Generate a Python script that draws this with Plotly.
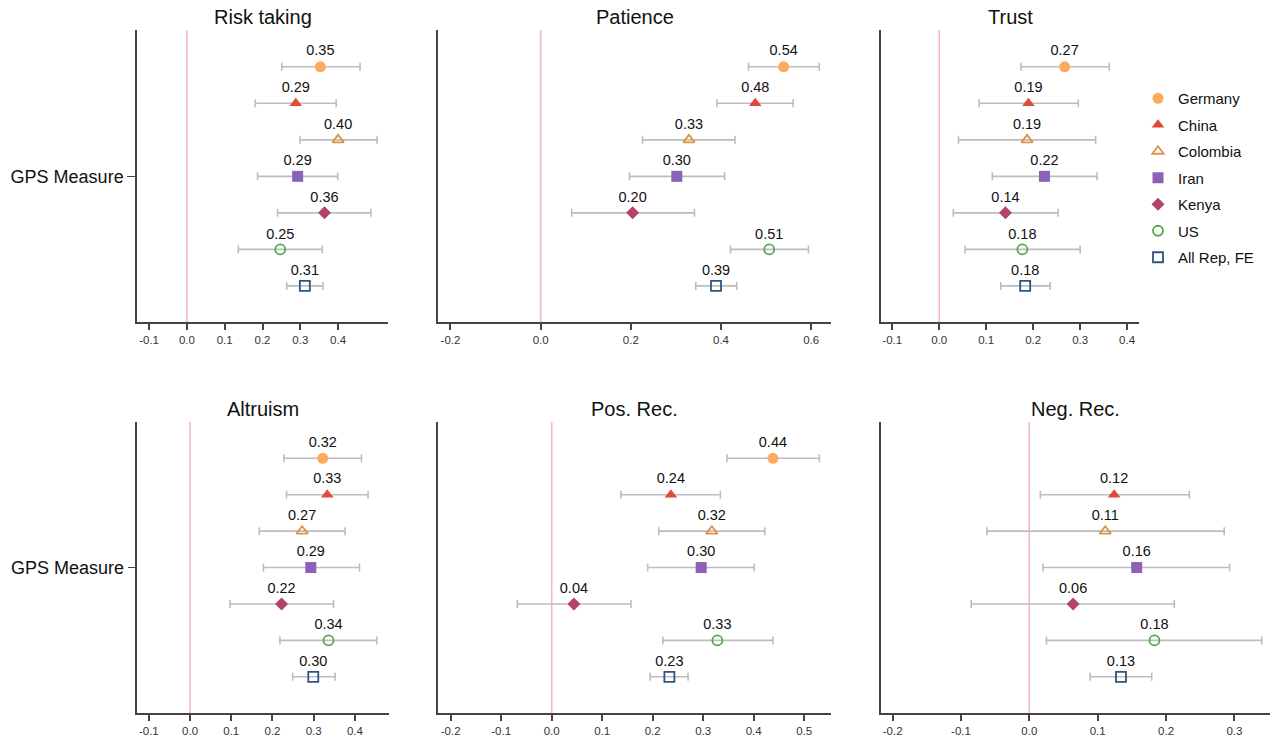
import plotly.graph_objects as go

# ---------------- data ----------------
countries = ["Germany", "China", "Colombia", "Iran", "Kenya", "US", "All Rep, FE"]
panel_titles = ["Risk taking", "Patience", "Trust", "Altruism", "Pos. Rec.", "Neg. Rec."]
y_label = "GPS Measure"

risk_est = [0.353, 0.288, 0.400, 0.293, 0.364, 0.247, 0.312]
risk_lo = [0.251, 0.181, 0.299, 0.187, 0.240, 0.136, 0.264]
risk_hi = [0.458, 0.395, 0.503, 0.399, 0.487, 0.358, 0.360]

patience_est = [0.539, 0.476, 0.329, 0.302, 0.204, 0.507, 0.389]
patience_lo = [0.461, 0.391, 0.226, 0.197, 0.069, 0.421, 0.344]
patience_hi = [0.618, 0.560, 0.431, 0.408, 0.341, 0.594, 0.435]

trust_est = [0.267, 0.190, 0.187, 0.224, 0.141, 0.177, 0.183]
trust_lo = [0.174, 0.085, 0.041, 0.113, 0.030, 0.055, 0.131]
trust_hi = [0.362, 0.296, 0.333, 0.336, 0.253, 0.300, 0.236]

altruism_est = [0.322, 0.333, 0.272, 0.293, 0.222, 0.336, 0.299]
altruism_lo = [0.228, 0.234, 0.168, 0.178, 0.097, 0.218, 0.249]
altruism_hi = [0.416, 0.432, 0.376, 0.411, 0.348, 0.453, 0.352]

posrec_est = [0.438, 0.236, 0.317, 0.296, 0.044, 0.328, 0.233]
posrec_lo = [0.347, 0.137, 0.212, 0.190, -0.068, 0.220, 0.195]
posrec_hi = [0.530, 0.334, 0.422, 0.401, 0.157, 0.438, 0.270]

negrec_est = [None, 0.124, 0.111, 0.157, 0.064, 0.183, 0.134]
negrec_lo = [None, 0.016, -0.062, 0.020, -0.085, 0.025, 0.089]
negrec_hi = [None, 0.234, 0.285, 0.293, 0.212, 0.340, 0.179]

tick_risk = [-0.1, 0.0, 0.1, 0.2, 0.3, 0.4]
tick_patience = [-0.2, 0.0, 0.2, 0.4, 0.6]
tick_trust = [-0.1, 0.0, 0.1, 0.2, 0.3, 0.4]
tick_altruism = [-0.1, 0.0, 0.1, 0.2, 0.3, 0.4]
tick_posrec = [-0.2, -0.1, 0.0, 0.1, 0.2, 0.3, 0.4, 0.5]
tick_negrec = [-0.2, -0.1, 0.0, 0.1, 0.2, 0.3]

# ---------------- styling ----------------
W, H = 1270, 742
FONT = "Arial, Liberation Sans, sans-serif"
colors = ["#FDAA5E", "#E2493A", "#DC9548", "#8B62B8", "#B4426F", "#55A84E", "#2C5680"]
symbols = ["circle", "triangle-up", "triangle-up-open", "square", "diamond", "circle-open", "square-open"]
sizes = [11, 11, 10, 11, 10, 10, 10]

panels = [
    (risk_est, risk_lo, risk_hi, tick_risk, [-0.132, 0.532], (137, 388), (30.3, 322.4)),
    (patience_est, patience_lo, patience_hi, tick_patience, [-0.227, 0.644], (438.3, 831), (30.3, 322.4)),
    (trust_est, trust_lo, trust_hi, tick_trust, [-0.124, 0.426], (881, 1139.3), (30.3, 322.4)),
    (altruism_est, altruism_lo, altruism_hi, tick_altruism, [-0.128, 0.482], (137.3, 388.7), (421.9, 713.2)),
    (posrec_est, posrec_lo, posrec_hi, tick_posrec, [-0.2245, 0.553], (438.3, 831), (421.9, 713.2)),
    (negrec_est, negrec_lo, negrec_hi, tick_negrec, [-0.217, 0.352], (881, 1270), (421.9, 713.2)),
]

fig = go.Figure()
layout = {}
annotations = []
shapes = []

for p, (est, lo, hi, ticks, xr, (x0, x1), (ytop, ybot)) in enumerate(panels):
    n = "" if p == 0 else str(p + 1)
    xa, ya = "x" + n, "y" + n
    for i, c in enumerate(countries):
        if est[i] is None:
            continue
        open_sym = symbols[i].endswith("open")
        fig.add_trace(go.Scatter(
            x=[est[i]], y=[i + 1],
            mode="markers+text",
            text=[f"{est[i]:.2f}"],
            textposition="top center",
            textfont=dict(family=FONT, size=14.5, color="#111111"),
            marker=dict(symbol=symbols[i], size=sizes[i], color=colors[i],
                        line=dict(color=colors[i], width=1.8 if open_sym else 0)),
            error_x=dict(type="data", symmetric=False,
                         array=[hi[i] - est[i]], arrayminus=[est[i] - lo[i]],
                         color="#BDBDBD", thickness=1.6, width=4),
            name=c, legendgroup=c, showlegend=(p == 0),
            xaxis=xa, yaxis=ya, cliponaxis=False,
        ))
    layout["xaxis" + n] = dict(
        domain=[x0 / W, x1 / W], range=xr, anchor=ya,
        tickvals=ticks, ticktext=[f"{t:.1f}" for t in ticks],
        ticks="outside", ticklen=6, tickwidth=1.5, tickcolor="#444444",
        showline=True, linecolor="#444444", linewidth=1.5,
        showgrid=False, zeroline=False,
        tickfont=dict(family=FONT, size=11.5, color="#333333"),
        automargin=False, fixedrange=True,
    )
    left = p in (0, 3)
    layout["yaxis" + n] = dict(
        domain=[1 - ybot / H, 1 - ytop / H], range=[8, 0], anchor=xa,
        tickvals=[4] if left else [], ticktext=[y_label] if left else [],
        ticks="outside" if left else "", ticklen=8, tickwidth=1.2, tickcolor="#444444",
        showticklabels=left,
        showline=True, linecolor="#444444", linewidth=1.5,
        showgrid=False, zeroline=False,
        tickfont=dict(family=FONT, size=18, color="#111111"),
        automargin=False, fixedrange=True,
    )
    shapes.append(dict(type="line", xref=xa, yref=ya + " domain", x0=0, x1=0, y0=0, y1=1,
                       line=dict(color="#F2B8C8", width=1.6), layer="below"))
    annotations.append(dict(
        text=panel_titles[p], xref="paper", yref="paper",
        x=(x0 + x1) / 2 / W if p != 5 else (x0 + 1270) / 2 / W,
        y=1 - (ytop - 13) / H, xanchor="center", yanchor="middle", showarrow=False,
        font=dict(family=FONT, size=20, color="#111111"),
    ))

fig.update_layout(
    **layout,
    width=W, height=H,
    margin=dict(l=0, r=0, t=0, b=0),
    paper_bgcolor="white", plot_bgcolor="white",
    annotations=annotations, shapes=shapes,
    legend=dict(x=1138 / W, y=1 - 82 / H, xanchor="left", yanchor="top",
                font=dict(family=FONT, size=15, color="#111111"),
                tracegroupgap=4, bgcolor="rgba(0,0,0,0)"),
    font=dict(family=FONT),
)

fig.write_html("out.html", config={"displayModeBar": False},
               post_script="document.body.style.margin='0';document.body.style.overflow='hidden';")
